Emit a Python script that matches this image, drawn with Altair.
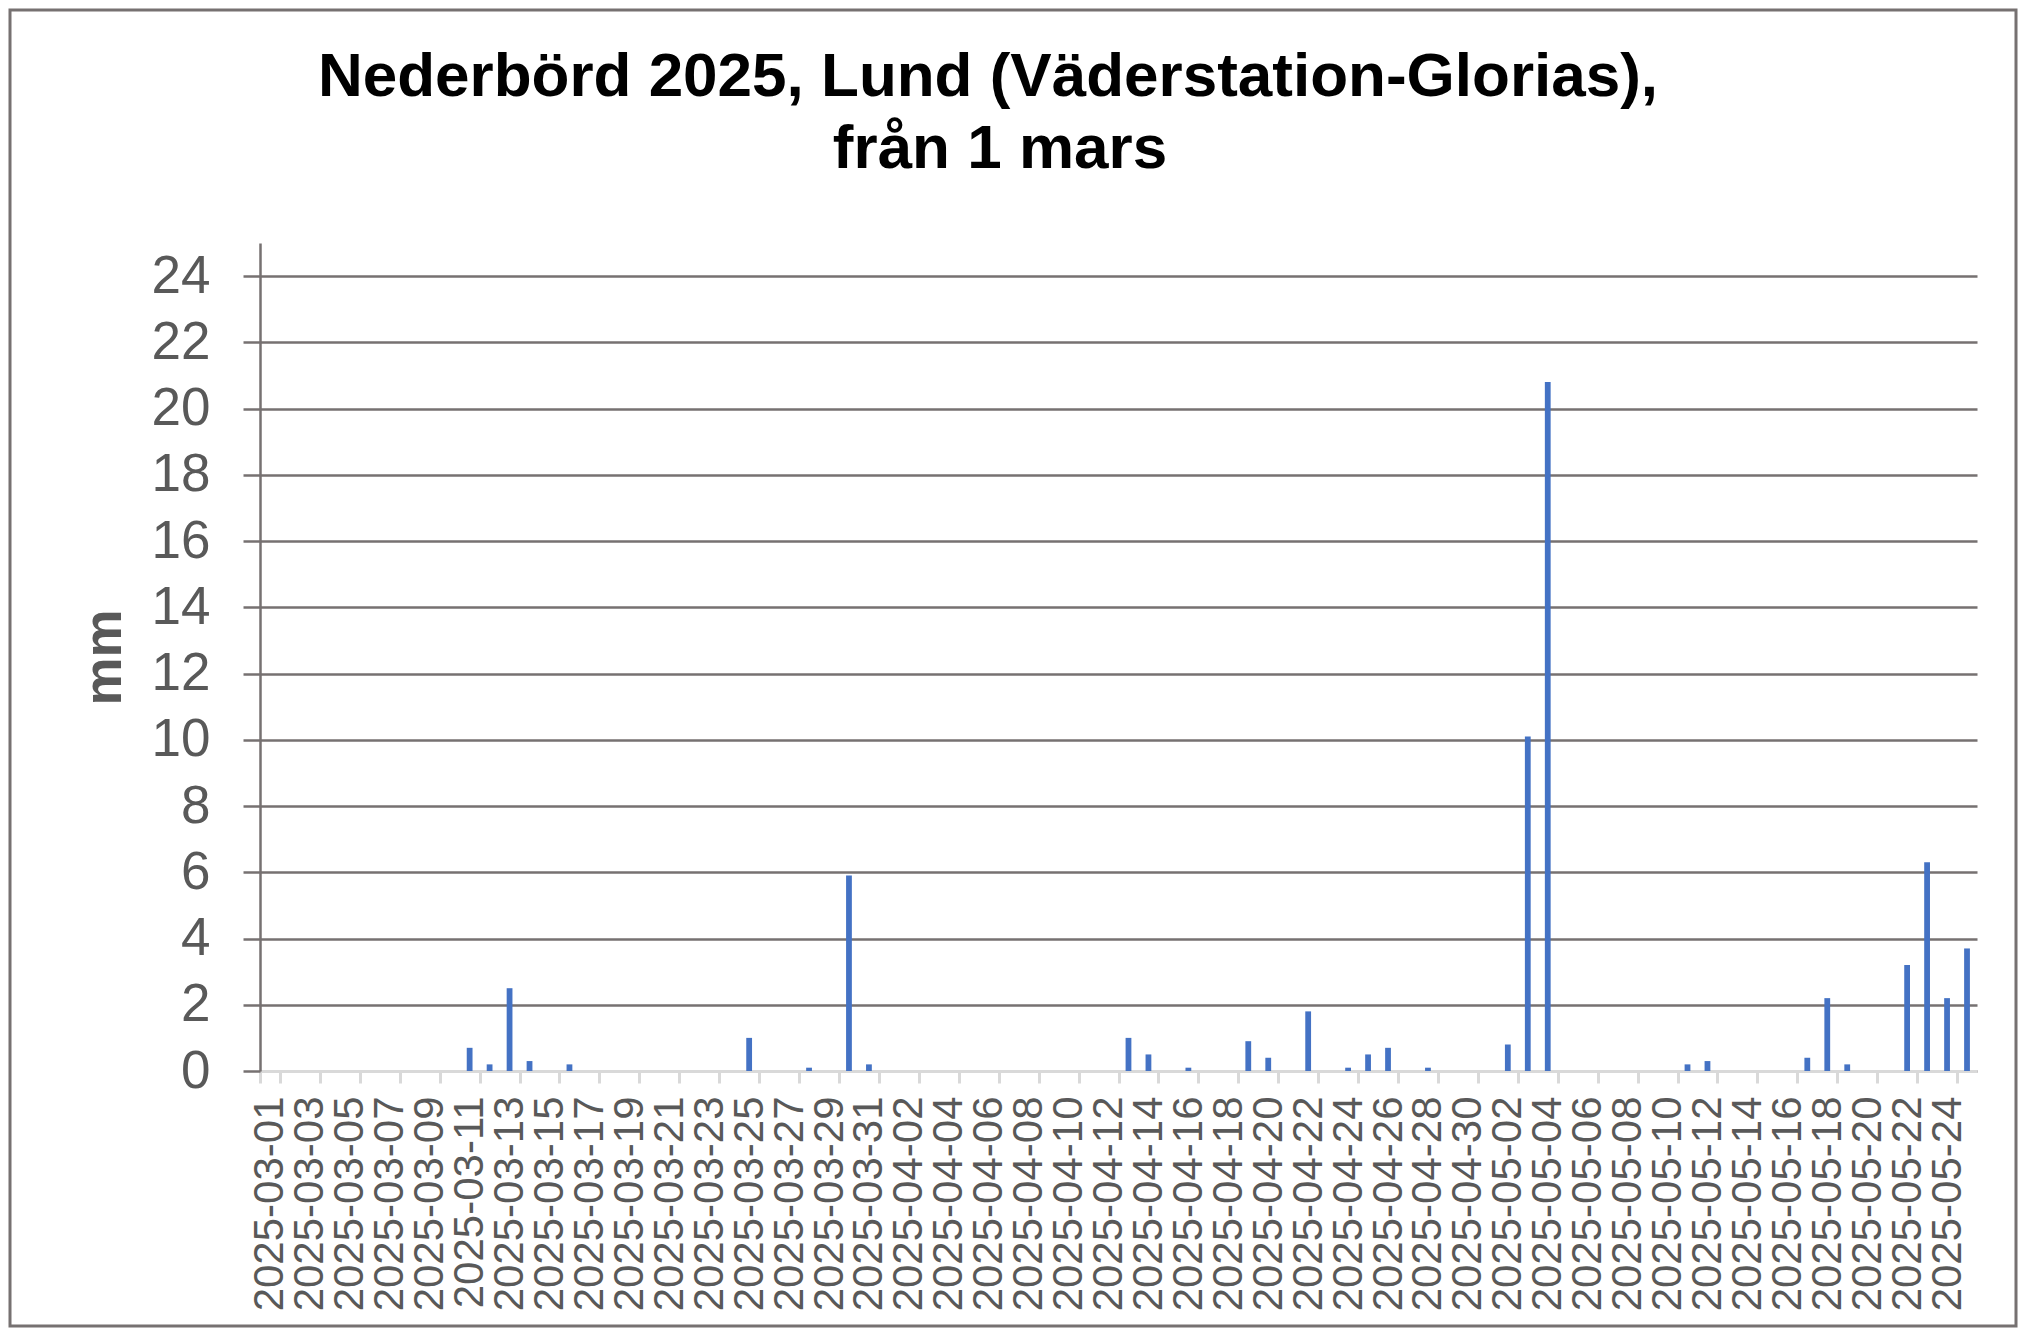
import altair as alt
import pandas as pd

# Daily precipitation (mm), Lund, 2025-03-01 .. 2025-05-25
march = [0, 0, 0, 0, 0, 0, 0, 0, 0, 0,
         0.7, 0.2, 2.5, 0.3, 0, 0.2, 0, 0, 0, 0,
         0, 0, 0, 0, 1.0, 0, 0, 0.1, 0, 5.9,
         0.2]
april = [0, 0, 0, 0, 0, 0, 0, 0, 0, 0,
         0, 0, 1.0, 0.5, 0, 0.1, 0, 0, 0.9, 0.4,
         0, 1.8, 0, 0.1, 0.5, 0.7, 0, 0.1, 0, 0]
may = [0, 0.8, 10.1, 20.8, 0, 0, 0, 0, 0, 0,
       0.2, 0.3, 0, 0, 0, 0, 0.4, 2.2, 0.2, 0,
       0, 3.2, 6.3, 2.2, 3.7]

dates = ([f"2025-03-{d:02d}" for d in range(1, 32)]
         + [f"2025-04-{d:02d}" for d in range(1, 31)]
         + [f"2025-05-{d:02d}" for d in range(1, 26)])
values = march + april + may
label_dates = dates[::2]
y_ticks = list(range(0, 25, 2))

title_line1 = "Nederbörd 2025, Lund (Väderstation-Glorias),"
title_line2 = "från 1 mars"

df = pd.DataFrame({"date": dates, "mm": values})

FONT = "Liberation Sans"
W, H = 1717, 828
PL, PT, PR, PB = 252, 235, 41, 257

bars = alt.Chart(df).mark_bar(
    color="#4472C4", width=alt.RelativeBandSize(0.29)
).encode(
    x=alt.X(
        "date:O", sort=None, title=None,
        scale=alt.Scale(paddingInner=0, paddingOuter=0),
        axis=alt.Axis(
            values=label_dates, labelAngle=270, labelAlign="right",
            labelBaseline="middle", labelFont=FONT, labelFontSize=42,
            labelColor="#595959", labelPadding=13, labelOverlap=False,
            labelLimit=0,
            domainColor="#D9D9D9", domainWidth=3, tickColor="#D9D9D9",
            tickWidth=3, tickSize=12, tickBand="extent", grid=False,
        ),
    ),
    y=alt.Y(
        "mm:Q", title="mm",
        scale=alt.Scale(domain=[0, 25], nice=False, zero=True),
        axis=alt.Axis(
            values=y_ticks, labelFont=FONT, labelFontSize=53,
            labelColor="#595959", labelPadding=33,
            domainColor="#767171", domainWidth=2.5,
            tickColor="#767171", tickWidth=2.5, tickSize=17,
            grid=True, gridColor="#767171", gridWidth=2.5,
            titleFont=FONT, titleFontSize=54, titleFontWeight="bold",
            titleColor="#595959", titleAngle=270, titleAlign="center",
            titleBaseline="alphabetic", titleX=-140, titleY=414,
        ),
    ),
)

border = alt.Chart(alt.Data(values=[{}])).mark_rect(
    fill="transparent", stroke="#767171", strokeWidth=3
).encode(
    x=alt.value(-PL + 2), x2=alt.value(W + PR - 2),
    y=alt.value(-PT + 2), y2=alt.value(H + PB - 2),
)

title_style = dict(font=FONT, fontSize=62, fontWeight="bold", color="black",
                   align="center", baseline="alphabetic")
t1 = alt.Chart(alt.Data(values=[{}])).mark_text(**title_style).encode(
    x=alt.value(728), y=alt.value(-147), text=alt.value(title_line1))
t2 = alt.Chart(alt.Data(values=[{}])).mark_text(**title_style).encode(
    x=alt.value(740), y=alt.value(-75), text=alt.value(title_line2))

chart = alt.layer(border, bars, t1, t2).properties(
    width=W, height=H,
    autosize=alt.AutoSizeParams(type="none"),
    padding={"left": PL, "top": PT, "right": PR, "bottom": PB},
).configure(
    background="white",
    view=alt.ViewConfig(stroke="transparent", strokeWidth=0),
)

chart.save("out.html", embed_options={"renderer": "svg", "actions": False})
